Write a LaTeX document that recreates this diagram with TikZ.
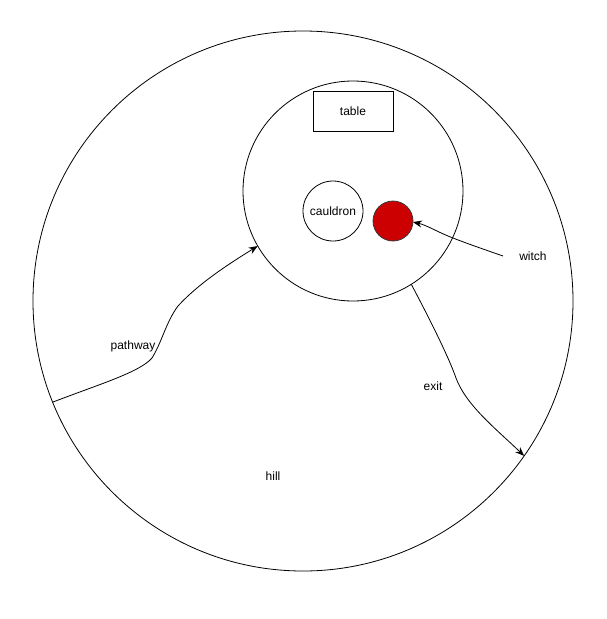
\documentclass[tikz,border=0pt]{standalone}
\usepackage{fontspec}
\setmainfont{Liberation Sans}
\usetikzlibrary{arrows.meta}
\definecolor{witchred}{HTML}{CC0000}
\definecolor{witchline}{HTML}{36393D}

\begin{document}
\begin{tikzpicture}[x=1pt,y=-1pt,line width=0.8pt,
  font=\fontsize{12}{14}\selectfont,
  ring/.style={draw,circle,inner sep=0pt,outer sep=0pt},
  way/.style={-{Stealth[length=9pt,width=7pt]}}]
\useasboundingbox (0,0) rectangle (606,619);

%hill and room
  \node[ring,minimum size=540pt] (hill) at (303,301) {};
  \node[ring,minimum size=220pt] (room) at (353,191) {};
  \node[draw,minimum width=80pt,minimum height=40pt] (table) at (353,111) {table};
  \node[ring,minimum size=60pt] (cauldron) at (333,211) {cauldron};
  \node[ring,minimum size=40pt,fill=witchred,draw=witchline] (witch) at (393,221) {};

%labels
  \node (pathwaylbl) at (133,346) {pathway};
  \node (exitlbl) at (433,386) {exit};
  \node (witchlbl) at (533,256) {witch};
  \node (hilllbl) at (273,476) {hill};

%pathway
  \coordinate (wstart) at (503,256);
\draw[way] (hill.202.8) .. controls (100,384) and (140,372) .. (152,358)
    .. controls (162,342) and (166,322) .. (178,306)
    .. controls (200,282) and (232,262) .. (room.210.5);

%exit
\draw[way] (room.302) .. controls (426,312) and (448,355) .. (456,378)
    .. controls (466,405) and (495,428) .. (hill.325.6);

%witch
\draw[way] (wstart) .. controls (480,248) and (460,241) .. (448,236)
    .. controls (436,231) and (426,225) .. (witch.-3);

\end{tikzpicture}
\end{document}
